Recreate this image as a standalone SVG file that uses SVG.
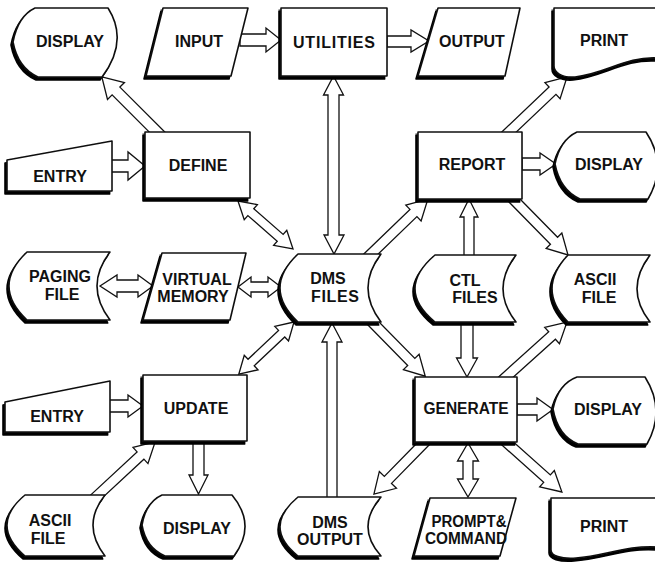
<svg xmlns="http://www.w3.org/2000/svg" width="655" height="562" viewBox="0 0 655 562">
<defs>
<filter id="shadow" x="-10%" y="-10%" width="125%" height="125%">
<feOffset in="SourceAlpha" dx="-2.5" dy="2.5" result="off"/>
<feMerge><feMergeNode in="off"/><feMergeNode in="SourceGraphic"/></feMerge>
</filter>
<style>
.shape{fill:#fff;stroke:#111;stroke-width:1.6;stroke-linejoin:round;filter:url(#shadow)}
.arrow{fill:#fff;stroke:#111;stroke-width:1.3;stroke-linejoin:miter}
text{font-family:"Liberation Sans",Arial,sans-serif;font-weight:bold;font-size:16px;fill:#111;text-anchor:middle}
</style>
</defs>
<rect width="655" height="562" fill="#fff"/>
<g id="connectors">
<polygon class="arrow" points="240,34 266,34 266,28 281,40 266,52 266,46 240,46"/>
<polygon class="arrow" points="387,36 411,36 411,30 429,41 411,52 411,47 387,47"/>
<polygon class="arrow" transform="translate(157,132) rotate(-135)" points="-7,-5.5 58,-5.5 58,-12 78,0 58,12 58,5.5 -7,5.5"/>
<polygon class="arrow" points="110,160 128,160 128,152 145,166 128,180 128,172 110,172"/>
<polygon class="arrow" transform="translate(509,132) rotate(-43.5)" points="-7,-5 60,-5 60,-11 80,0 60,11 60,5 -7,5"/>
<polygon class="arrow" points="522,158 540,158 540,153 556,164 540,175 540,170 522,170"/>
<polygon class="arrow" points="100,286 117,275 117,280 138,280 138,275 153,286 138,297 138,292 117,292 117,297"/>
<polygon class="arrow" points="238,287 251,277 251,282 268,282 268,277 281,287 268,297 268,292 251,292 251,297"/>
<polygon class="arrow" transform="translate(238,201) rotate(41.1)" points="0,0 17,-10 17,-4.5 56,-4.5 56,-10 73,0 56,10 56,4.5 17,4.5 17,10"/>
<polygon class="arrow" points="333.5,76 343.5,95 339,95 339,235 344,235 334,254 324,235 328,235 328,95 323.5,95"/>
<polygon class="arrow" transform="translate(371,254) rotate(-44)" points="-7,-5 59,-5 59,-11 79,0 59,11 59,5 -7,5"/>
<polygon class="arrow" transform="translate(372,322) rotate(45.5)" points="-7,-5 56,-5 56,-11 76,0 56,11 56,5 -7,5"/>
<polygon class="arrow" transform="translate(294,322) rotate(136.6)" points="0,0 17,-10 17,-4.5 59,-4.5 59,-10 76,0 59,10 59,4.5 17,4.5 17,10"/>
<polygon class="arrow" points="332,323 342,342 337,342 337,498 327,498 327,342 322,342"/>
<polygon class="arrow" points="469,199 478,217 474,217 474,257 464,257 464,217 460,217"/>
<polygon class="arrow" transform="translate(513,199) rotate(45.5)" points="-7,-5 58.5,-5 58.5,-11 78.5,0 58.5,11 58.5,5 -7,5"/>
<polygon class="arrow" points="467,377 477.5,358 473,358 473,320 461,320 461,358 456.5,358"/>
<polygon class="arrow" transform="translate(506,377) rotate(-42)" points="-7,-5 62,-5 62,-11 82,0 62,11 62,5 -7,5"/>
<polygon class="arrow" points="108,400 128,400 128,395 143,406 128,417 128,412 108,412"/>
<polygon class="arrow" transform="translate(98,495) rotate(-42.9)" points="-7,-5 58,-5 58,-11 78,0 58,11 58,5 -7,5"/>
<polygon class="arrow" points="198.5,494 208,475 204,475 204,440 193,440 193,475 189,475"/>
<polygon class="arrow" points="517,404 537,404 537,398 553,409.5 537,421 537,415 517,415"/>
<polygon class="arrow" points="468,443 478.5,461 473,461 473,479 478.5,479 468,497 457.5,479 463,479 463,461 457.5,461"/>
<polygon class="arrow" transform="translate(425,442) rotate(134.4)" points="-7,-5 53,-5 53,-12 73,0 53,12 53,5 -7,5"/>
<polygon class="arrow" transform="translate(506,442) rotate(41.8)" points="-7,-5 55,-5 55,-11 75,0 55,11 55,5 -7,5"/>
</g>
<g id="display-top">
<path class="shape" d="M35,8 L108,8 Q129,41 102,77 L38,77 Q18,68 13,42 Q18,16 35,8 Z"/>
<text x="70" y="47">DISPLAY</text>
</g>
<g id="input">
<path class="shape" d="M163,8 L248,8 L231,76 L146,76 Z"/>
<text x="199" y="47">INPUT</text>
</g>
<g id="utilities">
<rect class="shape" x="281" y="8" width="106" height="68"/>
<text x="334" y="48" textLength="82" lengthAdjust="spacing">UTILITIES</text>
</g>
<g id="output">
<path class="shape" d="M438,8 L520,8 L505,76 L418,76 Z"/>
<text x="472" y="47">OUTPUT</text>
</g>
<g id="print-top">
<path class="shape" d="M554,8 L658,8 L658,58 C626,56 605,74 575,77 C561,78 554,72 554,66 Z"/>
<text x="604" y="46">PRINT</text>
</g>
<g id="entry-top">
<path class="shape" d="M7,160 L112,141 L112,191 L7,191 Z"/>
<text x="60" y="182">ENTRY</text>
</g>
<g id="define">
<rect class="shape" x="145" y="132" width="105" height="66"/>
<text x="198" y="171">DEFINE</text>
</g>
<g id="report">
<rect class="shape" x="418" y="132" width="104" height="67"/>
<text x="472" y="170">REPORT</text>
</g>
<g id="display-report">
<path class="shape" d="M577,132 L646,132 Q668,165 648,199 L580,199 Q560,190 555,164 Q560,140 577,132 Z"/>
<text x="609" y="170">DISPLAY</text>
</g>
<g id="paging-file">
<path class="shape" d="M27,252 L110,252 Q84,286 110,320 L27,320 Q-9,286 27,252 Z"/>
<text x="60" y="282">PAGING</text>
<text x="62" y="300">FILE</text>
</g>
<g id="virtual-memory">
<path class="shape" d="M162,253 L246,253 L230,320 L143,320 Z"/>
<text x="197" y="285">VIRTUAL</text>
<text x="193" y="302">MEMORY</text>
</g>
<g id="dms-files">
<path class="shape" d="M298,254 L381,254 Q355,288 381,322 L298,322 Q262,288 298,254 Z"/>
<text x="328" y="284">DMS</text>
<text x="335" y="302" textLength="48" lengthAdjust="spacing">FILES</text>
</g>
<g id="ctl-files">
<path class="shape" d="M435,255 L516,255 Q490,289 516,322 L435,322 Q395,289 435,255 Z"/>
<text x="465" y="286">CTL</text>
<text x="475" y="303">FILES</text>
</g>
<g id="ascii-file-right">
<path class="shape" d="M568,255 L650,255 Q624,289 650,322 L568,322 Q536,289 568,255 Z"/>
<text x="595" y="285">ASCII</text>
<text x="599" y="303">FILE</text>
</g>
<g id="entry-bottom">
<path class="shape" d="M5,402 L110,381 L110,432 L5,432 Z"/>
<text x="57" y="422">ENTRY</text>
</g>
<g id="update">
<rect class="shape" x="143" y="375" width="104" height="66"/>
<text x="196" y="414">UPDATE</text>
</g>
<g id="generate">
<rect class="shape" x="415" y="377" width="102" height="65"/>
<text x="466" y="414" textLength="85" lengthAdjust="spacingAndGlyphs">GENERATE</text>
</g>
<g id="display-generate">
<path class="shape" d="M577,377 L645,377 Q666,410 647,444 L578,444 Q558,436 553,409 Q558,384 577,377 Z"/>
<text x="608" y="415">DISPLAY</text>
</g>
<g id="ascii-file-bottom">
<path class="shape" d="M25,495 L105,495 Q81,525 105,556 L25,556 Q-11,525 25,495 Z"/>
<text x="50" y="526">ASCII</text>
<text x="48" y="544">FILE</text>
</g>
<g id="display-update">
<path class="shape" d="M162,495 L232,495 Q257,525 234,556 L165,556 Q146,548 142,525 Q146,502 162,495 Z"/>
<text x="197" y="534">DISPLAY</text>
</g>
<g id="dms-output">
<path class="shape" d="M298,497 L381,497 Q355,527 381,556 L298,556 Q262,527 298,497 Z"/>
<text x="330" y="528">DMS</text>
<text x="330" y="545">OUTPUT</text>
</g>
<g id="prompt-command">
<path class="shape" d="M430,498 L516,498 L500,556 L414,556 Z"/>
<text x="469" y="527" textLength="75" lengthAdjust="spacingAndGlyphs">PROMPT&amp;</text>
<text x="466" y="544" textLength="82" lengthAdjust="spacingAndGlyphs">COMMAND</text>
</g>
<g id="print-bottom">
<path class="shape" d="M551,498 L658,498 L658,547 C626,545 605,556 576,558 C561,559 551,556 551,550 Z"/>
<text x="604" y="532">PRINT</text>
</g>
</svg>
